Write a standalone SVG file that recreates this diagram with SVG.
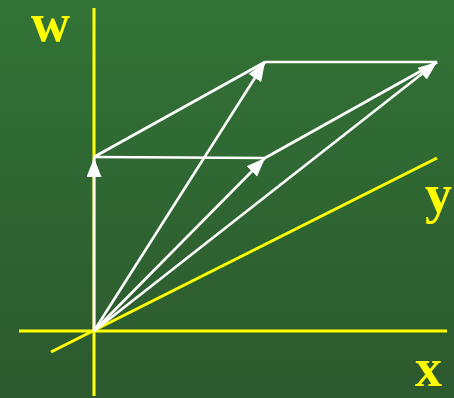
<svg xmlns="http://www.w3.org/2000/svg" width="454" height="398" viewBox="0 0 454 398">
<defs>
<linearGradient id="bg" x1="0" y1="0" x2="0" y2="1">
<stop offset="0" stop-color="#327336"/>
<stop offset="1" stop-color="#2c592e"/>
</linearGradient>
<marker id="ah" markerUnits="userSpaceOnUse" markerWidth="20" markerHeight="16" refX="19" refY="7.5" orient="auto" viewBox="0 0 20 16">
<path d="M0,0 L19,7.5 L0,15 z" fill="#ffffff"/>
</marker>
</defs>
<style>
.axis{stroke:#ffff00;stroke-width:3;fill:none}
.vec{stroke:#ffffff;stroke-width:2.6;fill:none}
.lbl{font-family:"Liberation Serif","Times New Roman",serif;font-weight:bold;font-size:54px;fill:#ffff00}
</style>
<rect x="0" y="0" width="454" height="398" fill="url(#bg)"/>
<g id="axes">
<line class="axis" x1="94" y1="8" x2="94" y2="396"/>
<line class="axis" x1="19" y1="331" x2="447" y2="331"/>
<line class="axis" x1="51" y1="352" x2="437" y2="158"/>
</g>
<g id="connectors">
<line class="vec" x1="94" y1="157" x2="265" y2="158"/>
<line class="vec" x1="94" y1="157" x2="265" y2="62"/>
<line class="vec" x1="265" y1="62" x2="437" y2="62"/>
<line class="vec" x1="265" y1="158" x2="437" y2="62"/>
<line class="vec" x1="94" y1="331" x2="94" y2="158" marker-end="url(#ah)"/>
<line class="vec" x1="94" y1="331" x2="265" y2="158" marker-end="url(#ah)"/>
<line class="vec" x1="94" y1="331" x2="265" y2="62" marker-end="url(#ah)"/>
<line class="vec" x1="94" y1="331" x2="437" y2="62" marker-end="url(#ah)"/>
</g>
<g id="label-w"><text class="lbl" x="31" y="41">w</text></g>
<g id="label-y"><text class="lbl" x="425" y="212">y</text></g>
<g id="label-x"><text class="lbl" x="415" y="386">x</text></g>
</svg>
